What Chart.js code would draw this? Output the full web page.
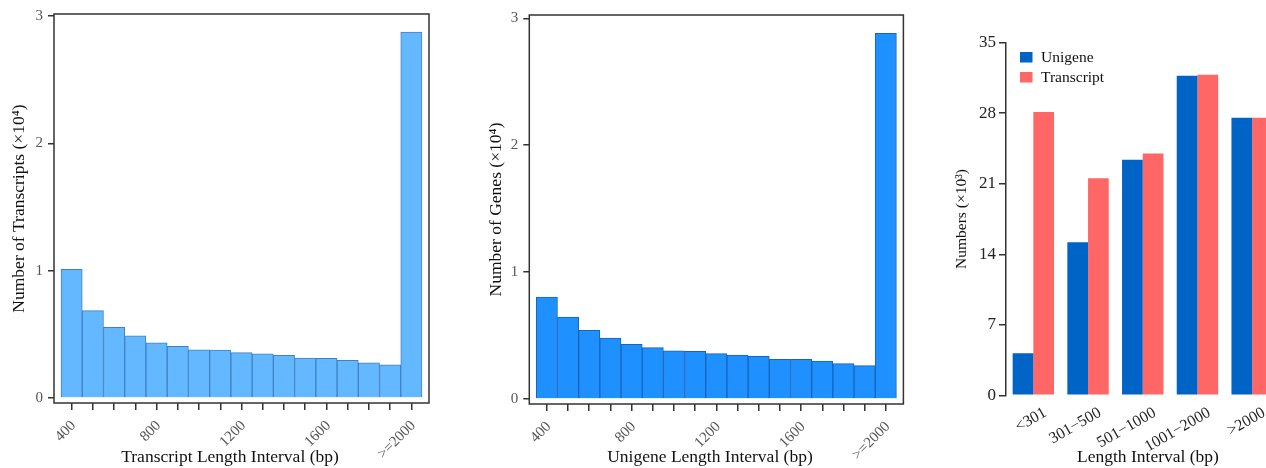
<!DOCTYPE html>
<html><head><meta charset="utf-8">
<script src="https://cdn.jsdelivr.net/npm/chart.js@4/dist/chart.umd.min.js"></script>
<style>
html,body{margin:0;padding:0;background:#fff;overflow:hidden;width:1266px;height:468px;}
.c{position:absolute;top:0;}
</style></head><body>
<div class="c" style="left:0px"><canvas id="c1" width="440" height="468"></canvas></div>
<div class="c" style="left:475px"><canvas id="c2" width="440" height="468"></canvas></div>
<div class="c" style="left:930px"><canvas id="c3" width="360" height="468"></canvas></div>
<script>
// ---- data ----
const histCategories = ['400','500','600','700','800','900','1000','1100','1200','1300','1400','1500','1600','1700','1800','1900','>=2000'];
const histShownLabels = ['400','800','1200','1600','>=2000'];
const transcriptCounts = [1.01,0.686,0.555,0.487,0.432,0.406,0.377,0.375,0.356,0.346,0.335,0.312,0.31,0.296,0.275,0.259,2.873];
const unigeneCounts = [0.803,0.646,0.540,0.480,0.430,0.404,0.380,0.375,0.357,0.346,0.335,0.312,0.312,0.298,0.278,0.262,2.882];
const histYTicks = [0,1,2,3];

const groupCategories = ['<301','301\u2212500','501\u22121000','1001\u22122000','>2000'];
const groupUnigene = [4.17,15.19,23.37,31.71,27.54];
const groupTranscript = [28.13,21.55,23.99,31.81,27.54];
const groupYTicks = [0,7,14,21,28,35];

// ---- helpers ----
const SERIF = '"Liberation Serif","Times New Roman",serif';
const boxPlugin = {
  id: 'box',
  afterDatasetsDraw(chart) {
    const {ctx, chartArea: a} = chart;
    ctx.save();
    ctx.strokeStyle = '#333';
    ctx.lineWidth = 1.5;
    ctx.strokeRect(a.left, a.top, a.right - a.left, a.bottom - a.top);
    ctx.restore();
  }
};
const xTitlePlugin = {
  id: 'xTitle',
  afterDraw(chart, args, opts) {
    if (!opts || !opts.text) return;
    const {ctx} = chart;
    ctx.save();
    ctx.font = '17.5px ' + SERIF;
    ctx.fillStyle = '#111';
    ctx.textAlign = 'center';
    ctx.textBaseline = 'middle';
    ctx.fillText(opts.text, opts.x, opts.y);
    ctx.restore();
  }
};
const legendPlugin = {
  id: 'customLegend',
  afterDraw(chart) {
    const {ctx} = chart;
    ctx.save();
    ctx.font = '15.5px ' + SERIF;
    ctx.textBaseline = 'middle';
    chart.data.datasets.forEach((ds, i) => {
      const y = 52 + i * 20;
      ctx.fillStyle = ds.backgroundColor;
      ctx.fillRect(90, y, 12.5, 10.5);
      ctx.fillStyle = '#111';
      ctx.fillText(ds.label, 111, y + 5.5);
    });
    ctx.restore();
  }
};

function histChart(id, values, color, border, yTitle, xTitle, geo) {
  return new Chart(document.getElementById(id), {
    type: 'bar',
    data: {
      datasets: [{
        data: values.map((v, i) => ({x: i, y: v})),
        backgroundColor: color,
        borderColor: border,
        borderWidth: 1,
        barPercentage: 1,
        categoryPercentage: 1
      }]
    },
    plugins: [boxPlugin, xTitlePlugin],
    options: {
      responsive: false,
      animation: false,
      events: [],
      layout: {padding: {left: 0, top: geo.top, right: geo.right, bottom: 0}},
      plugins: {legend: {display: false}, tooltip: {enabled: false}, xTitle: {text: xTitle, x: geo.tx, y: 457}},
      scales: {
        x: {
          type: 'linear',
          min: -0.83, max: 16.83,
          offset: false,
          afterBuildTicks: s => { s.ticks = histCategories.map((_, i) => ({value: i})); },
          afterFit: s => { s.height = geo.xh; },
          border: {display: false},
          grid: {display: true, offset: false, drawOnChartArea: false, drawTicks: true, tickLength: 7, color: '#333', lineWidth: 1.5},
          ticks: {
            autoSkip: false, minRotation: 45, maxRotation: 45, padding: 7, labelOffset: 2,
            color: '#555', font: {family: SERIF, size: 15},
            callback: v => histShownLabels.includes(histCategories[v]) ? histCategories[v] : ''
          }
        },
        y: {
          min: -0.04, max: geo.ymax,
          afterBuildTicks: s => { s.ticks = histYTicks.map(v => ({value: v})); },
          afterFit: s => { s.width = geo.yw; },
          border: {display: false},
          grid: {display: true, drawOnChartArea: false, drawTicks: true, tickLength: 6, color: '#333', lineWidth: 1.5},
          ticks: {padding: 5, color: '#555', font: {family: SERIF, size: 15}},
          title: {display: true, text: yTitle, color: '#111', font: {family: SERIF, size: 17.5}, padding: {top: geo.ytp, bottom: 0}}
        }
      }
    }
  });
}

histChart('c1', transcriptCounts, '#63B8FF', '#3f82c4', 'Number of Transcripts (\u00d710\u2074)', 'Transcript Length Interval (bp)',
  {top: 14, right: 11, xh: 65, yw: 54, ymax: 3.016, ytp: 8.5, tx: 230});
histChart('c2', unigeneCounts, '#1E90FF', '#1566b8', 'Number of Genes (\u00d710\u2074)', 'Unigene Length Interval (bp)',
  {top: 15, right: 11.6, xh: 64, yw: 54.3, ymax: 3.026, ytp: 11, tx: 235});

new Chart(document.getElementById('c3'), {
  type: 'bar',
  data: {
    labels: groupCategories,
    datasets: [
      {label: 'Unigene', data: groupUnigene, backgroundColor: '#0063C6', borderWidth: 0, barPercentage: 1, categoryPercentage: 0.757},
      {label: 'Transcript', data: groupTranscript, backgroundColor: '#FF6666', borderWidth: 0, barPercentage: 1, categoryPercentage: 0.757}
    ]
  },
  plugins: [legendPlugin, xTitlePlugin],
  options: {
    responsive: false,
    animation: false,
    events: [],
    layout: {padding: {left: 0, top: 42.7, right: 10.5, bottom: 0}},
    plugins: {legend: {display: false}, tooltip: {enabled: false}, xTitle: {text: 'Length Interval (bp)', x: 218, y: 457}},
    scales: {
      x: {
        afterFit: s => { s.height = 72.7; },
        border: {display: false},
        grid: {display: false},
        ticks: {autoSkip: false, minRotation: 30, maxRotation: 30, padding: 0, labelOffset: 12, color: '#222', font: {family: SERIF, size: 16}}
      },
      y: {
        min: 0, max: 35,
        afterBuildTicks: s => { s.ticks = groupYTicks.map(v => ({value: v})); },
        afterFit: s => { s.width = 76; },
        border: {display: true, color: '#333', width: 1.5},
        grid: {display: true, drawOnChartArea: false, drawTicks: true, tickLength: 7, color: '#333', lineWidth: 1.5},
        ticks: {padding: 3, color: '#222', font: {family: SERIF, size: 17}},
        title: {display: true, text: 'Numbers (\u00d710\u00b3)', color: '#111', font: {family: SERIF, size: 15.5}, padding: {top: 22.5, bottom: 0}}
      }
    }
  }
});
</script>
</body></html>
